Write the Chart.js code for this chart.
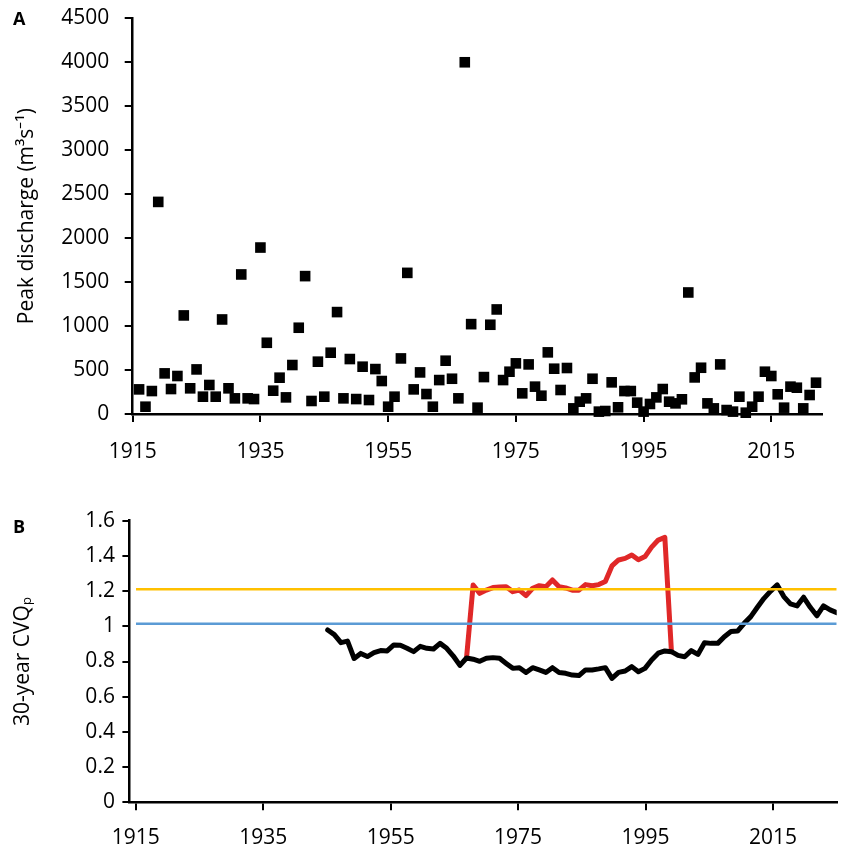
<!DOCTYPE html>
<html><head><meta charset="utf-8">
<script src="https://cdn.jsdelivr.net/npm/chart.js@4.4.1/dist/chart.umd.min.js"></script>
<style>
html,body{margin:0;padding:0;background:#fff;}
#wrap{position:relative;width:841px;height:846px;overflow:hidden;background:#fff;}
canvas{position:absolute;left:0;}
#cA{top:-30px;}
#cB{top:470px;}
.lbl{position:absolute;font-family:'Open Sans';font-weight:bold;font-size:18px;line-height:18px;color:#000;}
</style></head><body>
<div id="wrap">
<canvas id="cA" width="841" height="500"></canvas>
<canvas id="cB" width="841" height="376"></canvas>
<div class="lbl" style="left:13px;top:9px">A</div>
<div class="lbl" style="left:13px;top:517px">B</div>
</div>
<script>
// ---- Panel A: annual peak discharge ----
const peakYears = [1916,1917,1918,1919,1920,1921,1922,1923,1924,1925,1926,1927,1928,1929,1930,1931,1932,1933,1934,1935,
1936,1937,1938,1939,1940,1941,1942,1943,1944,1945,1946,1947,1948,1949,1950,1951,1952,1953,1954,1955,
1956,1957,1958,1959,1960,1961,1962,1963,1964,1965,1966,1967,1968,1969,1970,1971,1972,1973,1974,1975,
1976,1977,1978,1979,1980,1981,1982,1983,1984,1985,1986,1987,1988,1989,1990,1991,1992,1993,1994,1995,
1996,1997,1998,1999,2000,2001,2002,2003,2004,2005,2006,2007,2008,2009,2010,2011,2012,2013,2014,2015,
2016,2017,2018,2019,2020,2021,2022];
const peakDischarge = [280,83,261,2412,462,284,432,1121,292,507,197,330,197,1075,292,178,1587,178,170,1893,
810,265,413,189,557,981,1568,148,595,197,697,1159,178,625,170,538,159,511,375,83,
197,632,1605,280,473,227,83,386,606,401,178,4000,1022,72,420,1015,1189,386,481,576,
235,564,311,208,701,515,273,523,64,140,178,401,27,34,360,76,261,261,129,27,
114,189,284,140,121,167,1382,416,526,121,64,564,45,27,197,15,83,197,481,432,
224,72,311,299,64,216,356];
const yearTicks = [1915,1935,1955,1975,1995,2015];
const peakTicks = [0,500,1000,1500,2000,2500,3000,3500,4000,4500];

// ---- Panel B: 30-year CV of peak discharge ----
const cvYears = [1945,1946,1947,1948,1949,1950,1951,1952,1953,1954,1955,1956,1957,1958,1959,1960,1961,1962,1963,1964,
1965,1966,1967,1968,1969,1970,1971,1972,1973,1974,1975,1976,1977,1978,1979,1980,1981,1982,1983,1984,
1985,1986,1987,1988,1989,1990,1991,1992,1993,1994,1995,1996,1997,1998,1999,2000,2001,2002,2003,2004,
2005,2006,2007,2008,2009,2010,2011,2012,2013,2014,2015,2016,2017,2018,2019,2020,2021,2022];
const cvBlack = [0.979,0.953,0.907,0.916,0.817,0.846,0.828,0.850,0.862,0.860,0.894,0.892,0.875,0.856,0.886,0.875,0.871,0.903,0.875,0.831,
0.778,0.820,0.813,0.801,0.818,0.822,0.818,0.789,0.761,0.765,0.738,0.765,0.752,0.738,0.765,0.738,0.733,0.723,0.720,0.752,
0.752,0.758,0.765,0.704,0.738,0.746,0.771,0.742,0.761,0.809,0.847,0.860,0.856,0.835,0.827,0.862,0.840,0.907,0.903,0.903,
0.941,0.970,0.973,1.017,1.055,1.108,1.159,1.200,1.235,1.169,1.127,1.116,1.165,1.108,1.060,1.116,1.093,1.078];
const cvRedYears = [1966,1967,1968,1969,1970,1971,1972,1973,1974,1975,1976,1977,1978,1979,1980,1981,
1982,1983,1984,1985,1986,1987,1988,1989,1990,1991,1992,1993,1994,1995,1996,1997];
const cvRed = [0.820,1.235,1.187,1.206,1.220,1.223,1.225,1.197,1.206,1.174,1.216,1.231,1.225,1.263,1.225,1.218,
1.205,1.205,1.237,1.230,1.237,1.254,1.343,1.377,1.386,1.405,1.378,1.396,1.450,1.490,1.505,0.856];
const thresholdYears = [1916,2022];
const thresholdOrange = 1.21;
const thresholdBlue = 1.015;
const cvTicks = [0,0.2,0.4,0.6,0.8,1,1.2,1.4,1.6];

Chart.defaults.font.family = "'Open Sans'";
Chart.defaults.font.size = 21;
Chart.defaults.color = '#000';

const axisGrid = len => ({drawOnChartArea:false, drawTicks:true, tickLength:len, color:'#000', lineWidth:2});
const axisBorder = {color:'#000', width:2.5};

new Chart(document.getElementById('cA'), {
  type:'scatter',
  data:{datasets:[{
    data: peakYears.map((y,i)=>({x:y, y:peakDischarge[i]})),
    pointStyle:'rect', pointRadius:7.5, pointHoverRadius:7.5, pointBorderWidth:0,
    backgroundColor:'#000', borderColor:'#000', clip:false
  }]},
  options:{
    responsive:false, animation:false, events:[],
    layout:{autoPadding:false, padding:{top:48.3, right:18.6, left:0, bottom:6}},
    plugins:{legend:{display:false}, tooltip:{enabled:false}},
    scales:{
      x:{type:'linear', min:1915, max:2023,
        afterBuildTicks: s => { s.ticks = yearTicks.map(v=>({value:v})); },
        afterFit: s => { s.height = 50; },
        grid:axisGrid(8), border:axisBorder,
        ticks:{padding:17, maxRotation:0, autoSkip:false, callback:v=>String(v)}
      },
      y:{type:'linear', min:0, max:4500,
        afterBuildTicks: s => { s.ticks = peakTicks.map(v=>({value:v})); },
        afterFit: s => { s.width = 132.7; },
        grid:axisGrid(8), border:axisBorder,
        ticks:{padding:15.4, autoSkip:false, callback:v=>String(v)},
        title:{display:true, text:'Peak discharge (m³s⁻¹)', padding:{top:14.4, bottom:0}}
      }
    }
  }
});

new Chart(document.getElementById('cB'), {
  type:'line',
  data:{datasets:[
    {data: thresholdYears.map(y=>({x:y, y:thresholdOrange})), xAxisID:'x2', borderColor:'#FFC000', borderWidth:2.5, pointRadius:0, fill:false},
    {data: thresholdYears.map(y=>({x:y, y:thresholdBlue})), xAxisID:'x2', borderColor:'#5B9BD5', borderWidth:2.5, pointRadius:0, fill:false},
    {data: cvYears.map((y,i)=>({x:y, y:cvBlack[i]})), xAxisID:'x2', borderColor:'#000', borderWidth:5, pointRadius:0, fill:false, tension:0, borderJoinStyle:'round', borderCapStyle:'round'},
    {data: cvRedYears.map((y,i)=>({x:y, y:cvRed[i]})), xAxisID:'x2', borderColor:'#E02828', borderWidth:5, pointRadius:0, fill:false, tension:0, borderJoinStyle:'round', borderCapStyle:'round'}
  ]},
  options:{
    responsive:false, animation:false, events:[],
    layout:{autoPadding:false, padding:{top:50.7, right:4.3, left:0, bottom:0}},
    plugins:{legend:{display:false}, tooltip:{enabled:false}},
    scales:{
      x:{type:'linear', min:1914, max:2025, position:'bottom',
        afterBuildTicks: s => { s.ticks = yearTicks.map(v=>({value:v})); },
        afterFit: s => { s.height = 43.7; },
        grid:axisGrid(8), border:axisBorder,
        ticks:{padding:15, maxRotation:0, autoSkip:false, callback:v=>String(v)}
      },
      x2:{type:'linear', min:1915, max:2022, display:false},
      y:{type:'linear', min:0, max:1.6,
        afterBuildTicks: s => { s.ticks = cvTicks.map(v=>({value:v})); },
        afterFit: s => { s.width = 129.4; },
        grid:axisGrid(7), border:axisBorder,
        ticks:{padding:7.5, autoSkip:false, callback:v=>String(Math.round(v*10)/10)},
        title:{display:true, text:'30-year CVQₚ', padding:{top:10.4, bottom:0}}
      }
    }
  }
});
</script>
</body></html>
